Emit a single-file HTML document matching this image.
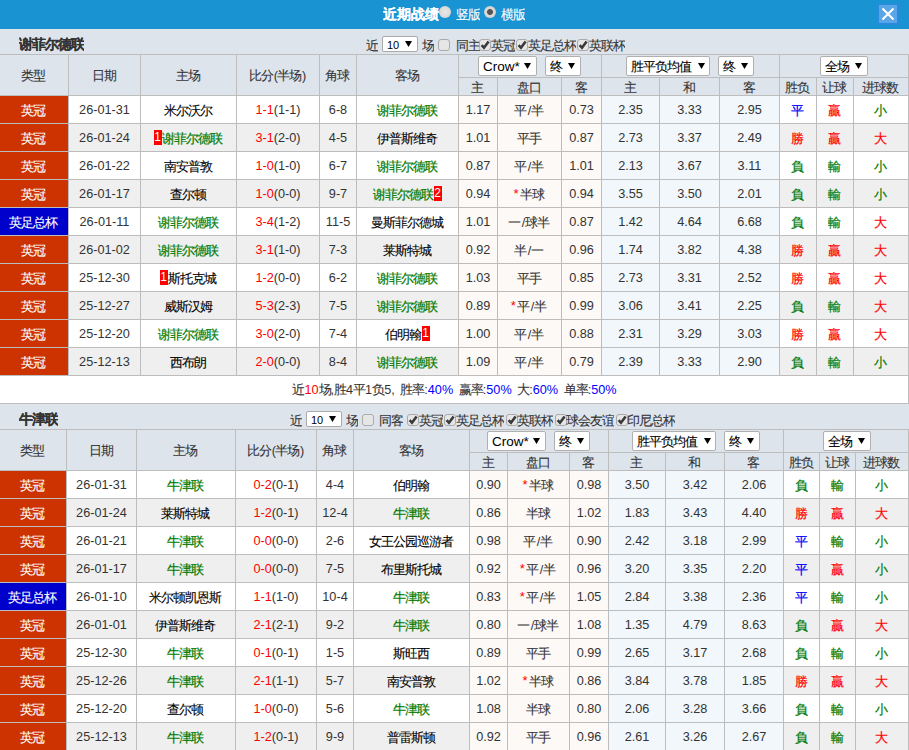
<!DOCTYPE html><html><head><meta charset="utf-8"><style>
*{margin:0;padding:0;box-sizing:border-box}
html,body{width:909px;height:750px;overflow:hidden;background:#fff}
body{position:relative;font-family:"Liberation Sans",sans-serif;font-size:12px;color:#000}
body>div{position:absolute;white-space:nowrap;overflow:hidden}
i{font-style:normal}
.c{font-size:13px;letter-spacing:-1px;-webkit-text-stroke:0.1px}
.l{font-size:12.7px}
.s{position:relative;left:-1px}
.sl{margin:0 1px}
.gr .c{-webkit-text-stroke:0.2px}
.ast{color:red;font-size:13px;position:relative;left:-1px;top:-1px;margin-right:1px}
.tn{font-weight:bold;color:#333}
.tn .c{font-size:14px;letter-spacing:-1px}
.ttl{font-weight:bold;color:#fff}
.ttl .c{font-size:14px;letter-spacing:0}
.bd{background:#f00;color:#fff;display:inline-block;width:8px;height:15px;line-height:15px;vertical-align:2px;text-align:center;letter-spacing:0}
.bd .l{font-size:12px}
.hb{position:relative;left:-1px}
.wt{color:#fff}
.radio{width:12px;height:12px;border-radius:50%;background:radial-gradient(circle,#e8e8e8 0,#d8d8d8 70%,#bbb 100%)}
.radio.on{background:radial-gradient(circle,#555 0,#555 30%,#ddd 40%,#ccc 80%,#aaa 100%)}
.ct{color:#333;line-height:22px}
.sel{background:#fff;border:1px solid #aaa;border-radius:2px}
.st{position:absolute;left:4px;top:0;line-height:16px;color:#000}
.st .l{font-size:11px}
.tri{position:absolute;width:0;height:0;border-left:3.5px solid transparent;border-right:3.5px solid transparent;border-top:6px solid #000}
.cb{width:12px;height:12px;border:1px solid #aaa;border-radius:3px;background:#e6e6e6}
.cb svg{position:absolute;left:-1px;top:-1px}
.hs{background:#fff;border:1px solid #b0b0b0;border-radius:2px}
.hst{position:absolute;top:0;line-height:20px;color:#000}
.hst .l{font-size:13.5px}
.sum{color:#333;word-spacing:2px}
</style></head><body>
<div style="left:0px;top:0px;width:909px;height:29px;background:#1a93d3"></div>
<div style="left:0px;top:29px;width:909px;height:1px;background:#e6ecf2"></div>
<div class="ttl" style="left:383px;top:0;line-height:29px"><i class="c">近期战绩</i></div>
<div class="radio" style="left:439px;top:6px"></div>
<div class="wt" style="left:456px;top:0;line-height:29px"><i class="c">竖版</i></div>
<div class="radio on" style="left:484px;top:6px"></div>
<div class="wt" style="left:501px;top:0;line-height:29px"><i class="c">横版</i></div>
<div style="left:877px;top:4px;width:22px;height:21px;background:#2a8ae0"></div>
<div style="left:879px;top:5px;width:18px;height:18px;background:#5aa5e6"><svg width="18" height="18" style="position:absolute;left:0;top:0"><path d="M3.5 3.5L14.5 14.5M14.5 3.5L3.5 14.5" stroke="#fff" stroke-width="2"/></svg></div>
<div style="left:0px;top:29px;width:909px;height:25px;background:#dde4ec"></div>
<div class="tn" style="left:19px;top:29px;height:25px;line-height:31px"><i class="c">谢菲尔德联</i></div>
<div style="left:0px;top:54px;width:909px;height:41px;background:#dde4ec"></div>
<div style="left:0px;top:54px;width:909px;height:1px;background:#bdbdbd"></div>
<div style="left:0px;top:55px;width:68px;height:40px;text-align:center;line-height:42px;color:#333"><i class="c s">类型</i></div>
<div style="left:69px;top:55px;width:71px;height:40px;text-align:center;line-height:42px;color:#333"><i class="c s">日期</i></div>
<div style="left:141px;top:55px;width:95px;height:40px;text-align:center;line-height:42px;color:#333"><i class="c s">主场</i></div>
<div style="left:237px;top:55px;width:82px;height:40px;text-align:center;line-height:42px;color:#333"><i class="c s">比分</i><i class="l">(</i><i class="c s">半场</i><i class="l">)</i></div>
<div style="left:320px;top:55px;width:36px;height:40px;text-align:center;line-height:42px;color:#333"><i class="c s">角球</i></div>
<div style="left:357px;top:55px;width:101px;height:40px;text-align:center;line-height:42px;color:#333"><i class="c s">客场</i></div>
<div style="left:459px;top:78px;width:38px;height:17px;text-align:center;line-height:19px;color:#333"><i class="c s">主</i></div>
<div style="left:498px;top:78px;width:63px;height:17px;text-align:center;line-height:19px;color:#333"><i class="c s">盘口</i></div>
<div style="left:562px;top:78px;width:39px;height:17px;text-align:center;line-height:19px;color:#333"><i class="c s">客</i></div>
<div style="left:602px;top:78px;width:57px;height:17px;text-align:center;line-height:19px;color:#333"><i class="c s">主</i></div>
<div style="left:660px;top:78px;width:59px;height:17px;text-align:center;line-height:19px;color:#333"><i class="c s">和</i></div>
<div style="left:720px;top:78px;width:59px;height:17px;text-align:center;line-height:19px;color:#333"><i class="c s">客</i></div>
<div style="left:780px;top:78px;width:36px;height:17px;text-align:center;line-height:19px;color:#333"><i class="c s">胜负</i></div>
<div style="left:817px;top:78px;width:36px;height:17px;text-align:center;line-height:19px;color:#333"><i class="c s">让球</i></div>
<div style="left:854px;top:78px;width:54px;height:17px;text-align:center;line-height:19px;color:#333"><i class="c s">进球数</i></div>
<div style="left:458px;top:77px;width:451px;height:1px;background:#bdbdbd"></div>
<div style="left:68px;top:54px;width:1px;height:41px;background:#bdbdbd"></div>
<div style="left:140px;top:54px;width:1px;height:41px;background:#bdbdbd"></div>
<div style="left:236px;top:54px;width:1px;height:41px;background:#bdbdbd"></div>
<div style="left:319px;top:54px;width:1px;height:41px;background:#bdbdbd"></div>
<div style="left:356px;top:54px;width:1px;height:41px;background:#bdbdbd"></div>
<div style="left:458px;top:54px;width:1px;height:41px;background:#bdbdbd"></div>
<div style="left:497px;top:77px;width:1px;height:18px;background:#bdbdbd"></div>
<div style="left:561px;top:77px;width:1px;height:18px;background:#bdbdbd"></div>
<div style="left:601px;top:54px;width:1px;height:41px;background:#bdbdbd"></div>
<div style="left:659px;top:77px;width:1px;height:18px;background:#bdbdbd"></div>
<div style="left:719px;top:77px;width:1px;height:18px;background:#bdbdbd"></div>
<div style="left:779px;top:54px;width:1px;height:41px;background:#bdbdbd"></div>
<div style="left:816px;top:77px;width:1px;height:18px;background:#bdbdbd"></div>
<div style="left:853px;top:77px;width:1px;height:18px;background:#bdbdbd"></div>
<div style="left:908px;top:54px;width:1px;height:41px;background:#bdbdbd"></div>
<div style="left:0px;top:95px;width:909px;height:1px;background:#bdbdbd"></div>
<div style="left:0px;top:96px;width:68px;height:27px;text-align:center;line-height:29px;background:#cc3300;color:#fff"><i class="c s">英冠</i></div>
<div style="left:69px;top:96px;width:71px;height:27px;text-align:center;line-height:29px;background:#fff;color:#333"><i class="l">26-01-31</i></div>
<div style="left:141px;top:96px;width:95px;height:27px;text-align:center;line-height:29px;background:#fff;"><span class="" style="color:#000"><i class="c s">米尔沃尔</i></span></div>
<div style="left:237px;top:96px;width:82px;height:27px;text-align:center;line-height:29px;background:#fff;color:#333"><span style="color:#ff0000"><i class="l">1-1</i></span><i class="l">(1-1)</i></div>
<div style="left:320px;top:96px;width:36px;height:27px;text-align:center;line-height:29px;background:#fff;color:#333"><i class="l">6-8</i></div>
<div style="left:357px;top:96px;width:101px;height:27px;text-align:center;line-height:29px;background:#fff;"><span class="gr" style="color:#007a00"><i class="c s">谢菲尔德联</i></span></div>
<div style="left:459px;top:96px;width:38px;height:27px;text-align:center;line-height:29px;background:#fdf9f6;color:#333"><i class="l">1.17</i></div>
<div style="left:498px;top:96px;width:63px;height:27px;text-align:center;line-height:29px;background:#fdf9f6;color:#333"><i class="c s">平</i><i class="l sl">/</i><i class="c s">半</i></div>
<div style="left:562px;top:96px;width:39px;height:27px;text-align:center;line-height:29px;background:#fdf9f6;color:#333"><i class="l">0.73</i></div>
<div style="left:602px;top:96px;width:57px;height:27px;text-align:center;line-height:29px;background:#f1f7fb;color:#333"><i class="l">2.35</i></div>
<div style="left:660px;top:96px;width:59px;height:27px;text-align:center;line-height:29px;background:#f1f7fb;color:#333"><i class="l">3.33</i></div>
<div style="left:720px;top:96px;width:59px;height:27px;text-align:center;line-height:29px;background:#f1f7fb;color:#333"><i class="l">2.95</i></div>
<div style="left:780px;top:96px;width:36px;height:27px;text-align:center;line-height:29px;background:#fff;color:#0000ff"><span class="gr"><i class="c s">平</i></span></div>
<div style="left:817px;top:96px;width:36px;height:27px;text-align:center;line-height:29px;background:#fff;color:#ff0000"><span class="gr"><i class="c s">贏</i></span></div>
<div style="left:854px;top:96px;width:54px;height:27px;text-align:center;line-height:29px;background:#fff;color:#007a00"><span class="gr"><i class="c s">小</i></span></div>
<div style="left:0px;top:123px;width:909px;height:1px;background:#bdbdbd"></div>
<div style="left:0px;top:124px;width:68px;height:27px;text-align:center;line-height:29px;background:#cc3300;color:#fff"><i class="c s">英冠</i></div>
<div style="left:69px;top:124px;width:71px;height:27px;text-align:center;line-height:29px;background:#efefef;color:#333"><i class="l">26-01-24</i></div>
<div style="left:141px;top:124px;width:95px;height:27px;text-align:center;line-height:29px;background:#efefef;"><span class="bd hb">1</span><span class="gr" style="color:#007a00"><i class="c s">谢菲尔德联</i></span></div>
<div style="left:237px;top:124px;width:82px;height:27px;text-align:center;line-height:29px;background:#efefef;color:#333"><span style="color:#ff0000"><i class="l">3-1</i></span><i class="l">(2-0)</i></div>
<div style="left:320px;top:124px;width:36px;height:27px;text-align:center;line-height:29px;background:#efefef;color:#333"><i class="l">4-5</i></div>
<div style="left:357px;top:124px;width:101px;height:27px;text-align:center;line-height:29px;background:#efefef;"><span class="" style="color:#000"><i class="c s">伊普斯维奇</i></span></div>
<div style="left:459px;top:124px;width:38px;height:27px;text-align:center;line-height:29px;background:#fdf9f6;color:#333"><i class="l">1.01</i></div>
<div style="left:498px;top:124px;width:63px;height:27px;text-align:center;line-height:29px;background:#fdf9f6;color:#333"><i class="c s">平手</i></div>
<div style="left:562px;top:124px;width:39px;height:27px;text-align:center;line-height:29px;background:#fdf9f6;color:#333"><i class="l">0.87</i></div>
<div style="left:602px;top:124px;width:57px;height:27px;text-align:center;line-height:29px;background:#f1f7fb;color:#333"><i class="l">2.73</i></div>
<div style="left:660px;top:124px;width:59px;height:27px;text-align:center;line-height:29px;background:#f1f7fb;color:#333"><i class="l">3.37</i></div>
<div style="left:720px;top:124px;width:59px;height:27px;text-align:center;line-height:29px;background:#f1f7fb;color:#333"><i class="l">2.49</i></div>
<div style="left:780px;top:124px;width:36px;height:27px;text-align:center;line-height:29px;background:#efefef;color:#ff0000"><span class="gr"><i class="c s">勝</i></span></div>
<div style="left:817px;top:124px;width:36px;height:27px;text-align:center;line-height:29px;background:#efefef;color:#ff0000"><span class="gr"><i class="c s">贏</i></span></div>
<div style="left:854px;top:124px;width:54px;height:27px;text-align:center;line-height:29px;background:#efefef;color:#ff0000"><span class="gr"><i class="c s">大</i></span></div>
<div style="left:0px;top:151px;width:909px;height:1px;background:#bdbdbd"></div>
<div style="left:0px;top:152px;width:68px;height:27px;text-align:center;line-height:29px;background:#cc3300;color:#fff"><i class="c s">英冠</i></div>
<div style="left:69px;top:152px;width:71px;height:27px;text-align:center;line-height:29px;background:#fff;color:#333"><i class="l">26-01-22</i></div>
<div style="left:141px;top:152px;width:95px;height:27px;text-align:center;line-height:29px;background:#fff;"><span class="" style="color:#000"><i class="c s">南安普敦</i></span></div>
<div style="left:237px;top:152px;width:82px;height:27px;text-align:center;line-height:29px;background:#fff;color:#333"><span style="color:#ff0000"><i class="l">1-0</i></span><i class="l">(1-0)</i></div>
<div style="left:320px;top:152px;width:36px;height:27px;text-align:center;line-height:29px;background:#fff;color:#333"><i class="l">6-7</i></div>
<div style="left:357px;top:152px;width:101px;height:27px;text-align:center;line-height:29px;background:#fff;"><span class="gr" style="color:#007a00"><i class="c s">谢菲尔德联</i></span></div>
<div style="left:459px;top:152px;width:38px;height:27px;text-align:center;line-height:29px;background:#fdf9f6;color:#333"><i class="l">0.87</i></div>
<div style="left:498px;top:152px;width:63px;height:27px;text-align:center;line-height:29px;background:#fdf9f6;color:#333"><i class="c s">平</i><i class="l sl">/</i><i class="c s">半</i></div>
<div style="left:562px;top:152px;width:39px;height:27px;text-align:center;line-height:29px;background:#fdf9f6;color:#333"><i class="l">1.01</i></div>
<div style="left:602px;top:152px;width:57px;height:27px;text-align:center;line-height:29px;background:#f1f7fb;color:#333"><i class="l">2.13</i></div>
<div style="left:660px;top:152px;width:59px;height:27px;text-align:center;line-height:29px;background:#f1f7fb;color:#333"><i class="l">3.67</i></div>
<div style="left:720px;top:152px;width:59px;height:27px;text-align:center;line-height:29px;background:#f1f7fb;color:#333"><i class="l">3.11</i></div>
<div style="left:780px;top:152px;width:36px;height:27px;text-align:center;line-height:29px;background:#fff;color:#007a00"><span class="gr"><i class="c s">負</i></span></div>
<div style="left:817px;top:152px;width:36px;height:27px;text-align:center;line-height:29px;background:#fff;color:#007a00"><span class="gr"><i class="c s">輸</i></span></div>
<div style="left:854px;top:152px;width:54px;height:27px;text-align:center;line-height:29px;background:#fff;color:#007a00"><span class="gr"><i class="c s">小</i></span></div>
<div style="left:0px;top:179px;width:909px;height:1px;background:#bdbdbd"></div>
<div style="left:0px;top:180px;width:68px;height:27px;text-align:center;line-height:29px;background:#cc3300;color:#fff"><i class="c s">英冠</i></div>
<div style="left:69px;top:180px;width:71px;height:27px;text-align:center;line-height:29px;background:#efefef;color:#333"><i class="l">26-01-17</i></div>
<div style="left:141px;top:180px;width:95px;height:27px;text-align:center;line-height:29px;background:#efefef;"><span class="" style="color:#000"><i class="c s">查尔顿</i></span></div>
<div style="left:237px;top:180px;width:82px;height:27px;text-align:center;line-height:29px;background:#efefef;color:#333"><span style="color:#ff0000"><i class="l">1-0</i></span><i class="l">(0-0)</i></div>
<div style="left:320px;top:180px;width:36px;height:27px;text-align:center;line-height:29px;background:#efefef;color:#333"><i class="l">9-7</i></div>
<div style="left:357px;top:180px;width:101px;height:27px;text-align:center;line-height:29px;background:#efefef;"><span class="gr" style="color:#007a00"><i class="c s">谢菲尔德联</i></span><span class="bd">2</span></div>
<div style="left:459px;top:180px;width:38px;height:27px;text-align:center;line-height:29px;background:#fdf9f6;color:#333"><i class="l">0.94</i></div>
<div style="left:498px;top:180px;width:63px;height:27px;text-align:center;line-height:29px;background:#fdf9f6;color:#333"><span class="ast">*</span><i class="c s">半球</i></div>
<div style="left:562px;top:180px;width:39px;height:27px;text-align:center;line-height:29px;background:#fdf9f6;color:#333"><i class="l">0.94</i></div>
<div style="left:602px;top:180px;width:57px;height:27px;text-align:center;line-height:29px;background:#f1f7fb;color:#333"><i class="l">3.55</i></div>
<div style="left:660px;top:180px;width:59px;height:27px;text-align:center;line-height:29px;background:#f1f7fb;color:#333"><i class="l">3.50</i></div>
<div style="left:720px;top:180px;width:59px;height:27px;text-align:center;line-height:29px;background:#f1f7fb;color:#333"><i class="l">2.01</i></div>
<div style="left:780px;top:180px;width:36px;height:27px;text-align:center;line-height:29px;background:#efefef;color:#007a00"><span class="gr"><i class="c s">負</i></span></div>
<div style="left:817px;top:180px;width:36px;height:27px;text-align:center;line-height:29px;background:#efefef;color:#007a00"><span class="gr"><i class="c s">輸</i></span></div>
<div style="left:854px;top:180px;width:54px;height:27px;text-align:center;line-height:29px;background:#efefef;color:#007a00"><span class="gr"><i class="c s">小</i></span></div>
<div style="left:0px;top:207px;width:909px;height:1px;background:#bdbdbd"></div>
<div style="left:0px;top:208px;width:68px;height:27px;text-align:center;line-height:29px;background:#0000cc;color:#fff"><i class="c s">英足总杯</i></div>
<div style="left:69px;top:208px;width:71px;height:27px;text-align:center;line-height:29px;background:#fff;color:#333"><i class="l">26-01-11</i></div>
<div style="left:141px;top:208px;width:95px;height:27px;text-align:center;line-height:29px;background:#fff;"><span class="gr" style="color:#007a00"><i class="c s">谢菲尔德联</i></span></div>
<div style="left:237px;top:208px;width:82px;height:27px;text-align:center;line-height:29px;background:#fff;color:#333"><span style="color:#ff0000"><i class="l">3-4</i></span><i class="l">(1-2)</i></div>
<div style="left:320px;top:208px;width:36px;height:27px;text-align:center;line-height:29px;background:#fff;color:#333"><i class="l">11-5</i></div>
<div style="left:357px;top:208px;width:101px;height:27px;text-align:center;line-height:29px;background:#fff;"><span class="" style="color:#000"><i class="c s">曼斯菲尔德城</i></span></div>
<div style="left:459px;top:208px;width:38px;height:27px;text-align:center;line-height:29px;background:#fdf9f6;color:#333"><i class="l">1.01</i></div>
<div style="left:498px;top:208px;width:63px;height:27px;text-align:center;line-height:29px;background:#fdf9f6;color:#333"><i class="c s">一</i><i class="l sl">/</i><i class="c s">球半</i></div>
<div style="left:562px;top:208px;width:39px;height:27px;text-align:center;line-height:29px;background:#fdf9f6;color:#333"><i class="l">0.87</i></div>
<div style="left:602px;top:208px;width:57px;height:27px;text-align:center;line-height:29px;background:#f1f7fb;color:#333"><i class="l">1.42</i></div>
<div style="left:660px;top:208px;width:59px;height:27px;text-align:center;line-height:29px;background:#f1f7fb;color:#333"><i class="l">4.64</i></div>
<div style="left:720px;top:208px;width:59px;height:27px;text-align:center;line-height:29px;background:#f1f7fb;color:#333"><i class="l">6.68</i></div>
<div style="left:780px;top:208px;width:36px;height:27px;text-align:center;line-height:29px;background:#fff;color:#007a00"><span class="gr"><i class="c s">負</i></span></div>
<div style="left:817px;top:208px;width:36px;height:27px;text-align:center;line-height:29px;background:#fff;color:#007a00"><span class="gr"><i class="c s">輸</i></span></div>
<div style="left:854px;top:208px;width:54px;height:27px;text-align:center;line-height:29px;background:#fff;color:#ff0000"><span class="gr"><i class="c s">大</i></span></div>
<div style="left:0px;top:235px;width:909px;height:1px;background:#bdbdbd"></div>
<div style="left:0px;top:236px;width:68px;height:27px;text-align:center;line-height:29px;background:#cc3300;color:#fff"><i class="c s">英冠</i></div>
<div style="left:69px;top:236px;width:71px;height:27px;text-align:center;line-height:29px;background:#efefef;color:#333"><i class="l">26-01-02</i></div>
<div style="left:141px;top:236px;width:95px;height:27px;text-align:center;line-height:29px;background:#efefef;"><span class="gr" style="color:#007a00"><i class="c s">谢菲尔德联</i></span></div>
<div style="left:237px;top:236px;width:82px;height:27px;text-align:center;line-height:29px;background:#efefef;color:#333"><span style="color:#ff0000"><i class="l">3-1</i></span><i class="l">(1-0)</i></div>
<div style="left:320px;top:236px;width:36px;height:27px;text-align:center;line-height:29px;background:#efefef;color:#333"><i class="l">7-3</i></div>
<div style="left:357px;top:236px;width:101px;height:27px;text-align:center;line-height:29px;background:#efefef;"><span class="" style="color:#000"><i class="c s">莱斯特城</i></span></div>
<div style="left:459px;top:236px;width:38px;height:27px;text-align:center;line-height:29px;background:#fdf9f6;color:#333"><i class="l">0.92</i></div>
<div style="left:498px;top:236px;width:63px;height:27px;text-align:center;line-height:29px;background:#fdf9f6;color:#333"><i class="c s">半</i><i class="l sl">/</i><i class="c s">一</i></div>
<div style="left:562px;top:236px;width:39px;height:27px;text-align:center;line-height:29px;background:#fdf9f6;color:#333"><i class="l">0.96</i></div>
<div style="left:602px;top:236px;width:57px;height:27px;text-align:center;line-height:29px;background:#f1f7fb;color:#333"><i class="l">1.74</i></div>
<div style="left:660px;top:236px;width:59px;height:27px;text-align:center;line-height:29px;background:#f1f7fb;color:#333"><i class="l">3.82</i></div>
<div style="left:720px;top:236px;width:59px;height:27px;text-align:center;line-height:29px;background:#f1f7fb;color:#333"><i class="l">4.38</i></div>
<div style="left:780px;top:236px;width:36px;height:27px;text-align:center;line-height:29px;background:#efefef;color:#ff0000"><span class="gr"><i class="c s">勝</i></span></div>
<div style="left:817px;top:236px;width:36px;height:27px;text-align:center;line-height:29px;background:#efefef;color:#ff0000"><span class="gr"><i class="c s">贏</i></span></div>
<div style="left:854px;top:236px;width:54px;height:27px;text-align:center;line-height:29px;background:#efefef;color:#ff0000"><span class="gr"><i class="c s">大</i></span></div>
<div style="left:0px;top:263px;width:909px;height:1px;background:#bdbdbd"></div>
<div style="left:0px;top:264px;width:68px;height:27px;text-align:center;line-height:29px;background:#cc3300;color:#fff"><i class="c s">英冠</i></div>
<div style="left:69px;top:264px;width:71px;height:27px;text-align:center;line-height:29px;background:#fff;color:#333"><i class="l">25-12-30</i></div>
<div style="left:141px;top:264px;width:95px;height:27px;text-align:center;line-height:29px;background:#fff;"><span class="bd hb">1</span><span class="" style="color:#000"><i class="c s">斯托克城</i></span></div>
<div style="left:237px;top:264px;width:82px;height:27px;text-align:center;line-height:29px;background:#fff;color:#333"><span style="color:#ff0000"><i class="l">1-2</i></span><i class="l">(0-0)</i></div>
<div style="left:320px;top:264px;width:36px;height:27px;text-align:center;line-height:29px;background:#fff;color:#333"><i class="l">6-2</i></div>
<div style="left:357px;top:264px;width:101px;height:27px;text-align:center;line-height:29px;background:#fff;"><span class="gr" style="color:#007a00"><i class="c s">谢菲尔德联</i></span></div>
<div style="left:459px;top:264px;width:38px;height:27px;text-align:center;line-height:29px;background:#fdf9f6;color:#333"><i class="l">1.03</i></div>
<div style="left:498px;top:264px;width:63px;height:27px;text-align:center;line-height:29px;background:#fdf9f6;color:#333"><i class="c s">平手</i></div>
<div style="left:562px;top:264px;width:39px;height:27px;text-align:center;line-height:29px;background:#fdf9f6;color:#333"><i class="l">0.85</i></div>
<div style="left:602px;top:264px;width:57px;height:27px;text-align:center;line-height:29px;background:#f1f7fb;color:#333"><i class="l">2.73</i></div>
<div style="left:660px;top:264px;width:59px;height:27px;text-align:center;line-height:29px;background:#f1f7fb;color:#333"><i class="l">3.31</i></div>
<div style="left:720px;top:264px;width:59px;height:27px;text-align:center;line-height:29px;background:#f1f7fb;color:#333"><i class="l">2.52</i></div>
<div style="left:780px;top:264px;width:36px;height:27px;text-align:center;line-height:29px;background:#fff;color:#ff0000"><span class="gr"><i class="c s">勝</i></span></div>
<div style="left:817px;top:264px;width:36px;height:27px;text-align:center;line-height:29px;background:#fff;color:#ff0000"><span class="gr"><i class="c s">贏</i></span></div>
<div style="left:854px;top:264px;width:54px;height:27px;text-align:center;line-height:29px;background:#fff;color:#ff0000"><span class="gr"><i class="c s">大</i></span></div>
<div style="left:0px;top:291px;width:909px;height:1px;background:#bdbdbd"></div>
<div style="left:0px;top:292px;width:68px;height:27px;text-align:center;line-height:29px;background:#cc3300;color:#fff"><i class="c s">英冠</i></div>
<div style="left:69px;top:292px;width:71px;height:27px;text-align:center;line-height:29px;background:#efefef;color:#333"><i class="l">25-12-27</i></div>
<div style="left:141px;top:292px;width:95px;height:27px;text-align:center;line-height:29px;background:#efefef;"><span class="" style="color:#000"><i class="c s">威斯汉姆</i></span></div>
<div style="left:237px;top:292px;width:82px;height:27px;text-align:center;line-height:29px;background:#efefef;color:#333"><span style="color:#ff0000"><i class="l">5-3</i></span><i class="l">(2-3)</i></div>
<div style="left:320px;top:292px;width:36px;height:27px;text-align:center;line-height:29px;background:#efefef;color:#333"><i class="l">7-5</i></div>
<div style="left:357px;top:292px;width:101px;height:27px;text-align:center;line-height:29px;background:#efefef;"><span class="gr" style="color:#007a00"><i class="c s">谢菲尔德联</i></span></div>
<div style="left:459px;top:292px;width:38px;height:27px;text-align:center;line-height:29px;background:#fdf9f6;color:#333"><i class="l">0.89</i></div>
<div style="left:498px;top:292px;width:63px;height:27px;text-align:center;line-height:29px;background:#fdf9f6;color:#333"><span class="ast">*</span><i class="c s">平</i><i class="l sl">/</i><i class="c s">半</i></div>
<div style="left:562px;top:292px;width:39px;height:27px;text-align:center;line-height:29px;background:#fdf9f6;color:#333"><i class="l">0.99</i></div>
<div style="left:602px;top:292px;width:57px;height:27px;text-align:center;line-height:29px;background:#f1f7fb;color:#333"><i class="l">3.06</i></div>
<div style="left:660px;top:292px;width:59px;height:27px;text-align:center;line-height:29px;background:#f1f7fb;color:#333"><i class="l">3.41</i></div>
<div style="left:720px;top:292px;width:59px;height:27px;text-align:center;line-height:29px;background:#f1f7fb;color:#333"><i class="l">2.25</i></div>
<div style="left:780px;top:292px;width:36px;height:27px;text-align:center;line-height:29px;background:#efefef;color:#007a00"><span class="gr"><i class="c s">負</i></span></div>
<div style="left:817px;top:292px;width:36px;height:27px;text-align:center;line-height:29px;background:#efefef;color:#007a00"><span class="gr"><i class="c s">輸</i></span></div>
<div style="left:854px;top:292px;width:54px;height:27px;text-align:center;line-height:29px;background:#efefef;color:#ff0000"><span class="gr"><i class="c s">大</i></span></div>
<div style="left:0px;top:319px;width:909px;height:1px;background:#bdbdbd"></div>
<div style="left:0px;top:320px;width:68px;height:27px;text-align:center;line-height:29px;background:#cc3300;color:#fff"><i class="c s">英冠</i></div>
<div style="left:69px;top:320px;width:71px;height:27px;text-align:center;line-height:29px;background:#fff;color:#333"><i class="l">25-12-20</i></div>
<div style="left:141px;top:320px;width:95px;height:27px;text-align:center;line-height:29px;background:#fff;"><span class="gr" style="color:#007a00"><i class="c s">谢菲尔德联</i></span></div>
<div style="left:237px;top:320px;width:82px;height:27px;text-align:center;line-height:29px;background:#fff;color:#333"><span style="color:#ff0000"><i class="l">3-0</i></span><i class="l">(2-0)</i></div>
<div style="left:320px;top:320px;width:36px;height:27px;text-align:center;line-height:29px;background:#fff;color:#333"><i class="l">7-4</i></div>
<div style="left:357px;top:320px;width:101px;height:27px;text-align:center;line-height:29px;background:#fff;"><span class="" style="color:#000"><i class="c s">伯明翰</i></span><span class="bd">1</span></div>
<div style="left:459px;top:320px;width:38px;height:27px;text-align:center;line-height:29px;background:#fdf9f6;color:#333"><i class="l">1.00</i></div>
<div style="left:498px;top:320px;width:63px;height:27px;text-align:center;line-height:29px;background:#fdf9f6;color:#333"><i class="c s">平</i><i class="l sl">/</i><i class="c s">半</i></div>
<div style="left:562px;top:320px;width:39px;height:27px;text-align:center;line-height:29px;background:#fdf9f6;color:#333"><i class="l">0.88</i></div>
<div style="left:602px;top:320px;width:57px;height:27px;text-align:center;line-height:29px;background:#f1f7fb;color:#333"><i class="l">2.31</i></div>
<div style="left:660px;top:320px;width:59px;height:27px;text-align:center;line-height:29px;background:#f1f7fb;color:#333"><i class="l">3.29</i></div>
<div style="left:720px;top:320px;width:59px;height:27px;text-align:center;line-height:29px;background:#f1f7fb;color:#333"><i class="l">3.03</i></div>
<div style="left:780px;top:320px;width:36px;height:27px;text-align:center;line-height:29px;background:#fff;color:#ff0000"><span class="gr"><i class="c s">勝</i></span></div>
<div style="left:817px;top:320px;width:36px;height:27px;text-align:center;line-height:29px;background:#fff;color:#ff0000"><span class="gr"><i class="c s">贏</i></span></div>
<div style="left:854px;top:320px;width:54px;height:27px;text-align:center;line-height:29px;background:#fff;color:#ff0000"><span class="gr"><i class="c s">大</i></span></div>
<div style="left:0px;top:347px;width:909px;height:1px;background:#bdbdbd"></div>
<div style="left:0px;top:348px;width:68px;height:27px;text-align:center;line-height:29px;background:#cc3300;color:#fff"><i class="c s">英冠</i></div>
<div style="left:69px;top:348px;width:71px;height:27px;text-align:center;line-height:29px;background:#efefef;color:#333"><i class="l">25-12-13</i></div>
<div style="left:141px;top:348px;width:95px;height:27px;text-align:center;line-height:29px;background:#efefef;"><span class="" style="color:#000"><i class="c s">西布朗</i></span></div>
<div style="left:237px;top:348px;width:82px;height:27px;text-align:center;line-height:29px;background:#efefef;color:#333"><span style="color:#ff0000"><i class="l">2-0</i></span><i class="l">(0-0)</i></div>
<div style="left:320px;top:348px;width:36px;height:27px;text-align:center;line-height:29px;background:#efefef;color:#333"><i class="l">8-4</i></div>
<div style="left:357px;top:348px;width:101px;height:27px;text-align:center;line-height:29px;background:#efefef;"><span class="gr" style="color:#007a00"><i class="c s">谢菲尔德联</i></span></div>
<div style="left:459px;top:348px;width:38px;height:27px;text-align:center;line-height:29px;background:#fdf9f6;color:#333"><i class="l">1.09</i></div>
<div style="left:498px;top:348px;width:63px;height:27px;text-align:center;line-height:29px;background:#fdf9f6;color:#333"><i class="c s">平</i><i class="l sl">/</i><i class="c s">半</i></div>
<div style="left:562px;top:348px;width:39px;height:27px;text-align:center;line-height:29px;background:#fdf9f6;color:#333"><i class="l">0.79</i></div>
<div style="left:602px;top:348px;width:57px;height:27px;text-align:center;line-height:29px;background:#f1f7fb;color:#333"><i class="l">2.39</i></div>
<div style="left:660px;top:348px;width:59px;height:27px;text-align:center;line-height:29px;background:#f1f7fb;color:#333"><i class="l">3.33</i></div>
<div style="left:720px;top:348px;width:59px;height:27px;text-align:center;line-height:29px;background:#f1f7fb;color:#333"><i class="l">2.90</i></div>
<div style="left:780px;top:348px;width:36px;height:27px;text-align:center;line-height:29px;background:#efefef;color:#007a00"><span class="gr"><i class="c s">負</i></span></div>
<div style="left:817px;top:348px;width:36px;height:27px;text-align:center;line-height:29px;background:#efefef;color:#007a00"><span class="gr"><i class="c s">輸</i></span></div>
<div style="left:854px;top:348px;width:54px;height:27px;text-align:center;line-height:29px;background:#efefef;color:#007a00"><span class="gr"><i class="c s">小</i></span></div>
<div style="left:0px;top:375px;width:909px;height:1px;background:#bdbdbd"></div>
<div style="left:68px;top:95px;width:1px;height:280px;background:#bdbdbd"></div>
<div style="left:140px;top:95px;width:1px;height:280px;background:#bdbdbd"></div>
<div style="left:236px;top:95px;width:1px;height:280px;background:#bdbdbd"></div>
<div style="left:319px;top:95px;width:1px;height:280px;background:#bdbdbd"></div>
<div style="left:356px;top:95px;width:1px;height:280px;background:#bdbdbd"></div>
<div style="left:458px;top:95px;width:1px;height:280px;background:#bdbdbd"></div>
<div style="left:497px;top:95px;width:1px;height:280px;background:#bdbdbd"></div>
<div style="left:561px;top:95px;width:1px;height:280px;background:#bdbdbd"></div>
<div style="left:601px;top:95px;width:1px;height:280px;background:#bdbdbd"></div>
<div style="left:659px;top:95px;width:1px;height:280px;background:#bdbdbd"></div>
<div style="left:719px;top:95px;width:1px;height:280px;background:#bdbdbd"></div>
<div style="left:779px;top:95px;width:1px;height:280px;background:#bdbdbd"></div>
<div style="left:816px;top:95px;width:1px;height:280px;background:#bdbdbd"></div>
<div style="left:853px;top:95px;width:1px;height:280px;background:#bdbdbd"></div>
<div style="left:908px;top:95px;width:1px;height:280px;background:#bdbdbd"></div>
<div class="ct" style="left:366px;top:35px"><i class="c">近</i></div>
<div class="sel" style="left:382px;top:36px;width:36px;height:16px"><span class="st"><i class="l">10</i></span><svg width="7" height="6" style="position:absolute;left:22px;top:4px"><path d="M0 0H7L3.5 6Z" fill="#000"/></svg></div>
<div class="ct" style="left:422px;top:35px"><i class="c">场</i></div>
<div class="cb" style="left:438px;top:39px"></div>
<div class="ct" style="left:456px;top:35px"><i class="c">同主</i></div>
<div class="cb" style="left:479px;top:39px"><svg width="12" height="12"><path d="M2.6 6.2L5 8.8L9.6 2.6" stroke="#3a3a3a" stroke-width="2.6" fill="none"/></svg></div>
<div class="ct" style="left:491px;top:35px"><i class="c">英冠</i></div>
<div class="cb" style="left:516px;top:39px"><svg width="12" height="12"><path d="M2.6 6.2L5 8.8L9.6 2.6" stroke="#3a3a3a" stroke-width="2.6" fill="none"/></svg></div>
<div class="ct" style="left:528px;top:35px"><i class="c">英足总杯</i></div>
<div class="cb" style="left:577px;top:39px"><svg width="12" height="12"><path d="M2.6 6.2L5 8.8L9.6 2.6" stroke="#3a3a3a" stroke-width="2.6" fill="none"/></svg></div>
<div class="ct" style="left:589px;top:35px"><i class="c">英联杯</i></div>
<div class="hs" style="left:478px;top:56px;width:59px;height:20px"><span class="hst" style="left:4px"><i class="l">Crow*</i></span><svg width="7" height="6" style="position:absolute;left:45px;top:6px"><path d="M0 0H7L3.5 6Z" fill="#000"/></svg></div>
<div class="hs" style="left:545px;top:56px;width:36px;height:20px"><span class="hst" style="left:4px"><i class="c">终</i></span><svg width="7" height="6" style="position:absolute;left:22px;top:6px"><path d="M0 0H7L3.5 6Z" fill="#000"/></svg></div>
<div class="hs" style="left:626px;top:56px;width:84px;height:20px"><span class="hst" style="left:4px"><i class="c">胜平负均值</i></span><svg width="7" height="6" style="position:absolute;left:71px;top:6px"><path d="M0 0H7L3.5 6Z" fill="#000"/></svg></div>
<div class="hs" style="left:718px;top:56px;width:36px;height:20px"><span class="hst" style="left:4px"><i class="c">终</i></span><svg width="7" height="6" style="position:absolute;left:22px;top:6px"><path d="M0 0H7L3.5 6Z" fill="#000"/></svg></div>
<div class="hs" style="left:820px;top:56px;width:48px;height:20px"><span class="hst" style="left:4px"><i class="c">全场</i></span><svg width="7" height="6" style="position:absolute;left:34px;top:6px"><path d="M0 0H7L3.5 6Z" fill="#000"/></svg></div>
<div class="sum" style="left:0;top:376px;width:909px;height:27px;line-height:27px;text-align:center"><i class="c">近</i><span style="color:red"><i class="l">10</i></span><i class="c">场</i><i class="l">,</i><i class="c">胜</i><i class="l">4</i><i class="c">平</i><i class="l">1</i><i class="c">负</i><i class="l">5, </i><i class="c">胜率</i><i class="l">:</i><span style="color:blue"><i class="l">40%</i></span><i class="l"> </i><i class="c">赢率</i><i class="l">:</i><span style="color:blue"><i class="l">50%</i></span><i class="l"> </i><i class="c">大</i><i class="l">:</i><span style="color:blue"><i class="l">60%</i></span><i class="l"> </i><i class="c">单率</i><i class="l">:</i><span style="color:blue"><i class="l">50%</i></span></div>
<div style="left:0px;top:403px;width:909px;height:26px;background:#dde4ec"></div>
<div class="tn" style="left:19px;top:403px;height:26px;line-height:32px"><i class="c">牛津联</i></div>
<div style="left:0px;top:429px;width:909px;height:41px;background:#dde4ec"></div>
<div style="left:0px;top:429px;width:909px;height:1px;background:#bdbdbd"></div>
<div style="left:0px;top:430px;width:66px;height:40px;text-align:center;line-height:42px;color:#333"><i class="c s">类型</i></div>
<div style="left:67px;top:430px;width:69px;height:40px;text-align:center;line-height:42px;color:#333"><i class="c s">日期</i></div>
<div style="left:137px;top:430px;width:98px;height:40px;text-align:center;line-height:42px;color:#333"><i class="c s">主场</i></div>
<div style="left:236px;top:430px;width:80px;height:40px;text-align:center;line-height:42px;color:#333"><i class="c s">比分</i><i class="l">(</i><i class="c s">半场</i><i class="l">)</i></div>
<div style="left:317px;top:430px;width:36px;height:40px;text-align:center;line-height:42px;color:#333"><i class="c s">角球</i></div>
<div style="left:354px;top:430px;width:115px;height:40px;text-align:center;line-height:42px;color:#333"><i class="c s">客场</i></div>
<div style="left:470px;top:453px;width:37px;height:17px;text-align:center;line-height:19px;color:#333"><i class="c s">主</i></div>
<div style="left:508px;top:453px;width:61px;height:17px;text-align:center;line-height:19px;color:#333"><i class="c s">盘口</i></div>
<div style="left:570px;top:453px;width:38px;height:17px;text-align:center;line-height:19px;color:#333"><i class="c s">客</i></div>
<div style="left:609px;top:453px;width:56px;height:17px;text-align:center;line-height:19px;color:#333"><i class="c s">主</i></div>
<div style="left:666px;top:453px;width:58px;height:17px;text-align:center;line-height:19px;color:#333"><i class="c s">和</i></div>
<div style="left:725px;top:453px;width:58px;height:17px;text-align:center;line-height:19px;color:#333"><i class="c s">客</i></div>
<div style="left:784px;top:453px;width:35px;height:17px;text-align:center;line-height:19px;color:#333"><i class="c s">胜负</i></div>
<div style="left:820px;top:453px;width:35px;height:17px;text-align:center;line-height:19px;color:#333"><i class="c s">让球</i></div>
<div style="left:856px;top:453px;width:52px;height:17px;text-align:center;line-height:19px;color:#333"><i class="c s">进球数</i></div>
<div style="left:469px;top:452px;width:440px;height:1px;background:#bdbdbd"></div>
<div style="left:66px;top:429px;width:1px;height:41px;background:#bdbdbd"></div>
<div style="left:136px;top:429px;width:1px;height:41px;background:#bdbdbd"></div>
<div style="left:235px;top:429px;width:1px;height:41px;background:#bdbdbd"></div>
<div style="left:316px;top:429px;width:1px;height:41px;background:#bdbdbd"></div>
<div style="left:353px;top:429px;width:1px;height:41px;background:#bdbdbd"></div>
<div style="left:469px;top:429px;width:1px;height:41px;background:#bdbdbd"></div>
<div style="left:507px;top:452px;width:1px;height:18px;background:#bdbdbd"></div>
<div style="left:569px;top:452px;width:1px;height:18px;background:#bdbdbd"></div>
<div style="left:608px;top:429px;width:1px;height:41px;background:#bdbdbd"></div>
<div style="left:665px;top:452px;width:1px;height:18px;background:#bdbdbd"></div>
<div style="left:724px;top:452px;width:1px;height:18px;background:#bdbdbd"></div>
<div style="left:783px;top:429px;width:1px;height:41px;background:#bdbdbd"></div>
<div style="left:819px;top:452px;width:1px;height:18px;background:#bdbdbd"></div>
<div style="left:855px;top:452px;width:1px;height:18px;background:#bdbdbd"></div>
<div style="left:908px;top:429px;width:1px;height:41px;background:#bdbdbd"></div>
<div style="left:0px;top:470px;width:909px;height:1px;background:#bdbdbd"></div>
<div style="left:0px;top:471px;width:66px;height:27px;text-align:center;line-height:29px;background:#cc3300;color:#fff"><i class="c s">英冠</i></div>
<div style="left:67px;top:471px;width:69px;height:27px;text-align:center;line-height:29px;background:#fff;color:#333"><i class="l">26-01-31</i></div>
<div style="left:137px;top:471px;width:98px;height:27px;text-align:center;line-height:29px;background:#fff;"><span class="gr" style="color:#007a00"><i class="c s">牛津联</i></span></div>
<div style="left:236px;top:471px;width:80px;height:27px;text-align:center;line-height:29px;background:#fff;color:#333"><span style="color:#ff0000"><i class="l">0-2</i></span><i class="l">(0-1)</i></div>
<div style="left:317px;top:471px;width:36px;height:27px;text-align:center;line-height:29px;background:#fff;color:#333"><i class="l">4-4</i></div>
<div style="left:354px;top:471px;width:115px;height:27px;text-align:center;line-height:29px;background:#fff;"><span class="" style="color:#000"><i class="c s">伯明翰</i></span></div>
<div style="left:470px;top:471px;width:37px;height:27px;text-align:center;line-height:29px;background:#fdf9f6;color:#333"><i class="l">0.90</i></div>
<div style="left:508px;top:471px;width:61px;height:27px;text-align:center;line-height:29px;background:#fdf9f6;color:#333"><span class="ast">*</span><i class="c s">半球</i></div>
<div style="left:570px;top:471px;width:38px;height:27px;text-align:center;line-height:29px;background:#fdf9f6;color:#333"><i class="l">0.98</i></div>
<div style="left:609px;top:471px;width:56px;height:27px;text-align:center;line-height:29px;background:#f1f7fb;color:#333"><i class="l">3.50</i></div>
<div style="left:666px;top:471px;width:58px;height:27px;text-align:center;line-height:29px;background:#f1f7fb;color:#333"><i class="l">3.42</i></div>
<div style="left:725px;top:471px;width:58px;height:27px;text-align:center;line-height:29px;background:#f1f7fb;color:#333"><i class="l">2.06</i></div>
<div style="left:784px;top:471px;width:35px;height:27px;text-align:center;line-height:29px;background:#fff;color:#007a00"><span class="gr"><i class="c s">負</i></span></div>
<div style="left:820px;top:471px;width:35px;height:27px;text-align:center;line-height:29px;background:#fff;color:#007a00"><span class="gr"><i class="c s">輸</i></span></div>
<div style="left:856px;top:471px;width:52px;height:27px;text-align:center;line-height:29px;background:#fff;color:#007a00"><span class="gr"><i class="c s">小</i></span></div>
<div style="left:0px;top:498px;width:909px;height:1px;background:#bdbdbd"></div>
<div style="left:0px;top:499px;width:66px;height:27px;text-align:center;line-height:29px;background:#cc3300;color:#fff"><i class="c s">英冠</i></div>
<div style="left:67px;top:499px;width:69px;height:27px;text-align:center;line-height:29px;background:#efefef;color:#333"><i class="l">26-01-24</i></div>
<div style="left:137px;top:499px;width:98px;height:27px;text-align:center;line-height:29px;background:#efefef;"><span class="" style="color:#000"><i class="c s">莱斯特城</i></span></div>
<div style="left:236px;top:499px;width:80px;height:27px;text-align:center;line-height:29px;background:#efefef;color:#333"><span style="color:#ff0000"><i class="l">1-2</i></span><i class="l">(0-1)</i></div>
<div style="left:317px;top:499px;width:36px;height:27px;text-align:center;line-height:29px;background:#efefef;color:#333"><i class="l">12-4</i></div>
<div style="left:354px;top:499px;width:115px;height:27px;text-align:center;line-height:29px;background:#efefef;"><span class="gr" style="color:#007a00"><i class="c s">牛津联</i></span></div>
<div style="left:470px;top:499px;width:37px;height:27px;text-align:center;line-height:29px;background:#fdf9f6;color:#333"><i class="l">0.86</i></div>
<div style="left:508px;top:499px;width:61px;height:27px;text-align:center;line-height:29px;background:#fdf9f6;color:#333"><i class="c s">半球</i></div>
<div style="left:570px;top:499px;width:38px;height:27px;text-align:center;line-height:29px;background:#fdf9f6;color:#333"><i class="l">1.02</i></div>
<div style="left:609px;top:499px;width:56px;height:27px;text-align:center;line-height:29px;background:#f1f7fb;color:#333"><i class="l">1.83</i></div>
<div style="left:666px;top:499px;width:58px;height:27px;text-align:center;line-height:29px;background:#f1f7fb;color:#333"><i class="l">3.43</i></div>
<div style="left:725px;top:499px;width:58px;height:27px;text-align:center;line-height:29px;background:#f1f7fb;color:#333"><i class="l">4.40</i></div>
<div style="left:784px;top:499px;width:35px;height:27px;text-align:center;line-height:29px;background:#efefef;color:#ff0000"><span class="gr"><i class="c s">勝</i></span></div>
<div style="left:820px;top:499px;width:35px;height:27px;text-align:center;line-height:29px;background:#efefef;color:#ff0000"><span class="gr"><i class="c s">贏</i></span></div>
<div style="left:856px;top:499px;width:52px;height:27px;text-align:center;line-height:29px;background:#efefef;color:#ff0000"><span class="gr"><i class="c s">大</i></span></div>
<div style="left:0px;top:526px;width:909px;height:1px;background:#bdbdbd"></div>
<div style="left:0px;top:527px;width:66px;height:27px;text-align:center;line-height:29px;background:#cc3300;color:#fff"><i class="c s">英冠</i></div>
<div style="left:67px;top:527px;width:69px;height:27px;text-align:center;line-height:29px;background:#fff;color:#333"><i class="l">26-01-21</i></div>
<div style="left:137px;top:527px;width:98px;height:27px;text-align:center;line-height:29px;background:#fff;"><span class="gr" style="color:#007a00"><i class="c s">牛津联</i></span></div>
<div style="left:236px;top:527px;width:80px;height:27px;text-align:center;line-height:29px;background:#fff;color:#333"><span style="color:#ff0000"><i class="l">0-0</i></span><i class="l">(0-0)</i></div>
<div style="left:317px;top:527px;width:36px;height:27px;text-align:center;line-height:29px;background:#fff;color:#333"><i class="l">2-6</i></div>
<div style="left:354px;top:527px;width:115px;height:27px;text-align:center;line-height:29px;background:#fff;"><span class="" style="color:#000"><i class="c s">女王公园巡游者</i></span></div>
<div style="left:470px;top:527px;width:37px;height:27px;text-align:center;line-height:29px;background:#fdf9f6;color:#333"><i class="l">0.98</i></div>
<div style="left:508px;top:527px;width:61px;height:27px;text-align:center;line-height:29px;background:#fdf9f6;color:#333"><i class="c s">平</i><i class="l sl">/</i><i class="c s">半</i></div>
<div style="left:570px;top:527px;width:38px;height:27px;text-align:center;line-height:29px;background:#fdf9f6;color:#333"><i class="l">0.90</i></div>
<div style="left:609px;top:527px;width:56px;height:27px;text-align:center;line-height:29px;background:#f1f7fb;color:#333"><i class="l">2.42</i></div>
<div style="left:666px;top:527px;width:58px;height:27px;text-align:center;line-height:29px;background:#f1f7fb;color:#333"><i class="l">3.18</i></div>
<div style="left:725px;top:527px;width:58px;height:27px;text-align:center;line-height:29px;background:#f1f7fb;color:#333"><i class="l">2.99</i></div>
<div style="left:784px;top:527px;width:35px;height:27px;text-align:center;line-height:29px;background:#fff;color:#0000ff"><span class="gr"><i class="c s">平</i></span></div>
<div style="left:820px;top:527px;width:35px;height:27px;text-align:center;line-height:29px;background:#fff;color:#007a00"><span class="gr"><i class="c s">輸</i></span></div>
<div style="left:856px;top:527px;width:52px;height:27px;text-align:center;line-height:29px;background:#fff;color:#007a00"><span class="gr"><i class="c s">小</i></span></div>
<div style="left:0px;top:554px;width:909px;height:1px;background:#bdbdbd"></div>
<div style="left:0px;top:555px;width:66px;height:27px;text-align:center;line-height:29px;background:#cc3300;color:#fff"><i class="c s">英冠</i></div>
<div style="left:67px;top:555px;width:69px;height:27px;text-align:center;line-height:29px;background:#efefef;color:#333"><i class="l">26-01-17</i></div>
<div style="left:137px;top:555px;width:98px;height:27px;text-align:center;line-height:29px;background:#efefef;"><span class="gr" style="color:#007a00"><i class="c s">牛津联</i></span></div>
<div style="left:236px;top:555px;width:80px;height:27px;text-align:center;line-height:29px;background:#efefef;color:#333"><span style="color:#ff0000"><i class="l">0-0</i></span><i class="l">(0-0)</i></div>
<div style="left:317px;top:555px;width:36px;height:27px;text-align:center;line-height:29px;background:#efefef;color:#333"><i class="l">7-5</i></div>
<div style="left:354px;top:555px;width:115px;height:27px;text-align:center;line-height:29px;background:#efefef;"><span class="" style="color:#000"><i class="c s">布里斯托城</i></span></div>
<div style="left:470px;top:555px;width:37px;height:27px;text-align:center;line-height:29px;background:#fdf9f6;color:#333"><i class="l">0.92</i></div>
<div style="left:508px;top:555px;width:61px;height:27px;text-align:center;line-height:29px;background:#fdf9f6;color:#333"><span class="ast">*</span><i class="c s">平</i><i class="l sl">/</i><i class="c s">半</i></div>
<div style="left:570px;top:555px;width:38px;height:27px;text-align:center;line-height:29px;background:#fdf9f6;color:#333"><i class="l">0.96</i></div>
<div style="left:609px;top:555px;width:56px;height:27px;text-align:center;line-height:29px;background:#f1f7fb;color:#333"><i class="l">3.20</i></div>
<div style="left:666px;top:555px;width:58px;height:27px;text-align:center;line-height:29px;background:#f1f7fb;color:#333"><i class="l">3.35</i></div>
<div style="left:725px;top:555px;width:58px;height:27px;text-align:center;line-height:29px;background:#f1f7fb;color:#333"><i class="l">2.20</i></div>
<div style="left:784px;top:555px;width:35px;height:27px;text-align:center;line-height:29px;background:#efefef;color:#0000ff"><span class="gr"><i class="c s">平</i></span></div>
<div style="left:820px;top:555px;width:35px;height:27px;text-align:center;line-height:29px;background:#efefef;color:#ff0000"><span class="gr"><i class="c s">贏</i></span></div>
<div style="left:856px;top:555px;width:52px;height:27px;text-align:center;line-height:29px;background:#efefef;color:#007a00"><span class="gr"><i class="c s">小</i></span></div>
<div style="left:0px;top:582px;width:909px;height:1px;background:#bdbdbd"></div>
<div style="left:0px;top:583px;width:66px;height:27px;text-align:center;line-height:29px;background:#0000cc;color:#fff"><i class="c s">英足总杯</i></div>
<div style="left:67px;top:583px;width:69px;height:27px;text-align:center;line-height:29px;background:#fff;color:#333"><i class="l">26-01-10</i></div>
<div style="left:137px;top:583px;width:98px;height:27px;text-align:center;line-height:29px;background:#fff;"><span class="" style="color:#000"><i class="c s">米尔顿凯恩斯</i></span></div>
<div style="left:236px;top:583px;width:80px;height:27px;text-align:center;line-height:29px;background:#fff;color:#333"><span style="color:#ff0000"><i class="l">1-1</i></span><i class="l">(1-0)</i></div>
<div style="left:317px;top:583px;width:36px;height:27px;text-align:center;line-height:29px;background:#fff;color:#333"><i class="l">10-4</i></div>
<div style="left:354px;top:583px;width:115px;height:27px;text-align:center;line-height:29px;background:#fff;"><span class="gr" style="color:#007a00"><i class="c s">牛津联</i></span></div>
<div style="left:470px;top:583px;width:37px;height:27px;text-align:center;line-height:29px;background:#fdf9f6;color:#333"><i class="l">0.83</i></div>
<div style="left:508px;top:583px;width:61px;height:27px;text-align:center;line-height:29px;background:#fdf9f6;color:#333"><span class="ast">*</span><i class="c s">平</i><i class="l sl">/</i><i class="c s">半</i></div>
<div style="left:570px;top:583px;width:38px;height:27px;text-align:center;line-height:29px;background:#fdf9f6;color:#333"><i class="l">1.05</i></div>
<div style="left:609px;top:583px;width:56px;height:27px;text-align:center;line-height:29px;background:#f1f7fb;color:#333"><i class="l">2.84</i></div>
<div style="left:666px;top:583px;width:58px;height:27px;text-align:center;line-height:29px;background:#f1f7fb;color:#333"><i class="l">3.38</i></div>
<div style="left:725px;top:583px;width:58px;height:27px;text-align:center;line-height:29px;background:#f1f7fb;color:#333"><i class="l">2.36</i></div>
<div style="left:784px;top:583px;width:35px;height:27px;text-align:center;line-height:29px;background:#fff;color:#0000ff"><span class="gr"><i class="c s">平</i></span></div>
<div style="left:820px;top:583px;width:35px;height:27px;text-align:center;line-height:29px;background:#fff;color:#007a00"><span class="gr"><i class="c s">輸</i></span></div>
<div style="left:856px;top:583px;width:52px;height:27px;text-align:center;line-height:29px;background:#fff;color:#007a00"><span class="gr"><i class="c s">小</i></span></div>
<div style="left:0px;top:610px;width:909px;height:1px;background:#bdbdbd"></div>
<div style="left:0px;top:611px;width:66px;height:27px;text-align:center;line-height:29px;background:#cc3300;color:#fff"><i class="c s">英冠</i></div>
<div style="left:67px;top:611px;width:69px;height:27px;text-align:center;line-height:29px;background:#efefef;color:#333"><i class="l">26-01-01</i></div>
<div style="left:137px;top:611px;width:98px;height:27px;text-align:center;line-height:29px;background:#efefef;"><span class="" style="color:#000"><i class="c s">伊普斯维奇</i></span></div>
<div style="left:236px;top:611px;width:80px;height:27px;text-align:center;line-height:29px;background:#efefef;color:#333"><span style="color:#ff0000"><i class="l">2-1</i></span><i class="l">(2-1)</i></div>
<div style="left:317px;top:611px;width:36px;height:27px;text-align:center;line-height:29px;background:#efefef;color:#333"><i class="l">9-2</i></div>
<div style="left:354px;top:611px;width:115px;height:27px;text-align:center;line-height:29px;background:#efefef;"><span class="gr" style="color:#007a00"><i class="c s">牛津联</i></span></div>
<div style="left:470px;top:611px;width:37px;height:27px;text-align:center;line-height:29px;background:#fdf9f6;color:#333"><i class="l">0.80</i></div>
<div style="left:508px;top:611px;width:61px;height:27px;text-align:center;line-height:29px;background:#fdf9f6;color:#333"><i class="c s">一</i><i class="l sl">/</i><i class="c s">球半</i></div>
<div style="left:570px;top:611px;width:38px;height:27px;text-align:center;line-height:29px;background:#fdf9f6;color:#333"><i class="l">1.08</i></div>
<div style="left:609px;top:611px;width:56px;height:27px;text-align:center;line-height:29px;background:#f1f7fb;color:#333"><i class="l">1.35</i></div>
<div style="left:666px;top:611px;width:58px;height:27px;text-align:center;line-height:29px;background:#f1f7fb;color:#333"><i class="l">4.79</i></div>
<div style="left:725px;top:611px;width:58px;height:27px;text-align:center;line-height:29px;background:#f1f7fb;color:#333"><i class="l">8.63</i></div>
<div style="left:784px;top:611px;width:35px;height:27px;text-align:center;line-height:29px;background:#efefef;color:#007a00"><span class="gr"><i class="c s">負</i></span></div>
<div style="left:820px;top:611px;width:35px;height:27px;text-align:center;line-height:29px;background:#efefef;color:#ff0000"><span class="gr"><i class="c s">贏</i></span></div>
<div style="left:856px;top:611px;width:52px;height:27px;text-align:center;line-height:29px;background:#efefef;color:#ff0000"><span class="gr"><i class="c s">大</i></span></div>
<div style="left:0px;top:638px;width:909px;height:1px;background:#bdbdbd"></div>
<div style="left:0px;top:639px;width:66px;height:27px;text-align:center;line-height:29px;background:#cc3300;color:#fff"><i class="c s">英冠</i></div>
<div style="left:67px;top:639px;width:69px;height:27px;text-align:center;line-height:29px;background:#fff;color:#333"><i class="l">25-12-30</i></div>
<div style="left:137px;top:639px;width:98px;height:27px;text-align:center;line-height:29px;background:#fff;"><span class="gr" style="color:#007a00"><i class="c s">牛津联</i></span></div>
<div style="left:236px;top:639px;width:80px;height:27px;text-align:center;line-height:29px;background:#fff;color:#333"><span style="color:#ff0000"><i class="l">0-1</i></span><i class="l">(0-1)</i></div>
<div style="left:317px;top:639px;width:36px;height:27px;text-align:center;line-height:29px;background:#fff;color:#333"><i class="l">1-5</i></div>
<div style="left:354px;top:639px;width:115px;height:27px;text-align:center;line-height:29px;background:#fff;"><span class="" style="color:#000"><i class="c s">斯旺西</i></span></div>
<div style="left:470px;top:639px;width:37px;height:27px;text-align:center;line-height:29px;background:#fdf9f6;color:#333"><i class="l">0.89</i></div>
<div style="left:508px;top:639px;width:61px;height:27px;text-align:center;line-height:29px;background:#fdf9f6;color:#333"><i class="c s">平手</i></div>
<div style="left:570px;top:639px;width:38px;height:27px;text-align:center;line-height:29px;background:#fdf9f6;color:#333"><i class="l">0.99</i></div>
<div style="left:609px;top:639px;width:56px;height:27px;text-align:center;line-height:29px;background:#f1f7fb;color:#333"><i class="l">2.65</i></div>
<div style="left:666px;top:639px;width:58px;height:27px;text-align:center;line-height:29px;background:#f1f7fb;color:#333"><i class="l">3.17</i></div>
<div style="left:725px;top:639px;width:58px;height:27px;text-align:center;line-height:29px;background:#f1f7fb;color:#333"><i class="l">2.68</i></div>
<div style="left:784px;top:639px;width:35px;height:27px;text-align:center;line-height:29px;background:#fff;color:#007a00"><span class="gr"><i class="c s">負</i></span></div>
<div style="left:820px;top:639px;width:35px;height:27px;text-align:center;line-height:29px;background:#fff;color:#007a00"><span class="gr"><i class="c s">輸</i></span></div>
<div style="left:856px;top:639px;width:52px;height:27px;text-align:center;line-height:29px;background:#fff;color:#007a00"><span class="gr"><i class="c s">小</i></span></div>
<div style="left:0px;top:666px;width:909px;height:1px;background:#bdbdbd"></div>
<div style="left:0px;top:667px;width:66px;height:27px;text-align:center;line-height:29px;background:#cc3300;color:#fff"><i class="c s">英冠</i></div>
<div style="left:67px;top:667px;width:69px;height:27px;text-align:center;line-height:29px;background:#efefef;color:#333"><i class="l">25-12-26</i></div>
<div style="left:137px;top:667px;width:98px;height:27px;text-align:center;line-height:29px;background:#efefef;"><span class="gr" style="color:#007a00"><i class="c s">牛津联</i></span></div>
<div style="left:236px;top:667px;width:80px;height:27px;text-align:center;line-height:29px;background:#efefef;color:#333"><span style="color:#ff0000"><i class="l">2-1</i></span><i class="l">(1-1)</i></div>
<div style="left:317px;top:667px;width:36px;height:27px;text-align:center;line-height:29px;background:#efefef;color:#333"><i class="l">5-7</i></div>
<div style="left:354px;top:667px;width:115px;height:27px;text-align:center;line-height:29px;background:#efefef;"><span class="" style="color:#000"><i class="c s">南安普敦</i></span></div>
<div style="left:470px;top:667px;width:37px;height:27px;text-align:center;line-height:29px;background:#fdf9f6;color:#333"><i class="l">1.02</i></div>
<div style="left:508px;top:667px;width:61px;height:27px;text-align:center;line-height:29px;background:#fdf9f6;color:#333"><span class="ast">*</span><i class="c s">半球</i></div>
<div style="left:570px;top:667px;width:38px;height:27px;text-align:center;line-height:29px;background:#fdf9f6;color:#333"><i class="l">0.86</i></div>
<div style="left:609px;top:667px;width:56px;height:27px;text-align:center;line-height:29px;background:#f1f7fb;color:#333"><i class="l">3.84</i></div>
<div style="left:666px;top:667px;width:58px;height:27px;text-align:center;line-height:29px;background:#f1f7fb;color:#333"><i class="l">3.78</i></div>
<div style="left:725px;top:667px;width:58px;height:27px;text-align:center;line-height:29px;background:#f1f7fb;color:#333"><i class="l">1.85</i></div>
<div style="left:784px;top:667px;width:35px;height:27px;text-align:center;line-height:29px;background:#efefef;color:#ff0000"><span class="gr"><i class="c s">勝</i></span></div>
<div style="left:820px;top:667px;width:35px;height:27px;text-align:center;line-height:29px;background:#efefef;color:#ff0000"><span class="gr"><i class="c s">贏</i></span></div>
<div style="left:856px;top:667px;width:52px;height:27px;text-align:center;line-height:29px;background:#efefef;color:#ff0000"><span class="gr"><i class="c s">大</i></span></div>
<div style="left:0px;top:694px;width:909px;height:1px;background:#bdbdbd"></div>
<div style="left:0px;top:695px;width:66px;height:27px;text-align:center;line-height:29px;background:#cc3300;color:#fff"><i class="c s">英冠</i></div>
<div style="left:67px;top:695px;width:69px;height:27px;text-align:center;line-height:29px;background:#fff;color:#333"><i class="l">25-12-20</i></div>
<div style="left:137px;top:695px;width:98px;height:27px;text-align:center;line-height:29px;background:#fff;"><span class="" style="color:#000"><i class="c s">查尔顿</i></span></div>
<div style="left:236px;top:695px;width:80px;height:27px;text-align:center;line-height:29px;background:#fff;color:#333"><span style="color:#ff0000"><i class="l">1-0</i></span><i class="l">(0-0)</i></div>
<div style="left:317px;top:695px;width:36px;height:27px;text-align:center;line-height:29px;background:#fff;color:#333"><i class="l">5-6</i></div>
<div style="left:354px;top:695px;width:115px;height:27px;text-align:center;line-height:29px;background:#fff;"><span class="gr" style="color:#007a00"><i class="c s">牛津联</i></span></div>
<div style="left:470px;top:695px;width:37px;height:27px;text-align:center;line-height:29px;background:#fdf9f6;color:#333"><i class="l">1.08</i></div>
<div style="left:508px;top:695px;width:61px;height:27px;text-align:center;line-height:29px;background:#fdf9f6;color:#333"><i class="c s">半球</i></div>
<div style="left:570px;top:695px;width:38px;height:27px;text-align:center;line-height:29px;background:#fdf9f6;color:#333"><i class="l">0.80</i></div>
<div style="left:609px;top:695px;width:56px;height:27px;text-align:center;line-height:29px;background:#f1f7fb;color:#333"><i class="l">2.06</i></div>
<div style="left:666px;top:695px;width:58px;height:27px;text-align:center;line-height:29px;background:#f1f7fb;color:#333"><i class="l">3.28</i></div>
<div style="left:725px;top:695px;width:58px;height:27px;text-align:center;line-height:29px;background:#f1f7fb;color:#333"><i class="l">3.66</i></div>
<div style="left:784px;top:695px;width:35px;height:27px;text-align:center;line-height:29px;background:#fff;color:#007a00"><span class="gr"><i class="c s">負</i></span></div>
<div style="left:820px;top:695px;width:35px;height:27px;text-align:center;line-height:29px;background:#fff;color:#007a00"><span class="gr"><i class="c s">輸</i></span></div>
<div style="left:856px;top:695px;width:52px;height:27px;text-align:center;line-height:29px;background:#fff;color:#007a00"><span class="gr"><i class="c s">小</i></span></div>
<div style="left:0px;top:722px;width:909px;height:1px;background:#bdbdbd"></div>
<div style="left:0px;top:723px;width:66px;height:27px;text-align:center;line-height:29px;background:#cc3300;color:#fff"><i class="c s">英冠</i></div>
<div style="left:67px;top:723px;width:69px;height:27px;text-align:center;line-height:29px;background:#efefef;color:#333"><i class="l">25-12-13</i></div>
<div style="left:137px;top:723px;width:98px;height:27px;text-align:center;line-height:29px;background:#efefef;"><span class="gr" style="color:#007a00"><i class="c s">牛津联</i></span></div>
<div style="left:236px;top:723px;width:80px;height:27px;text-align:center;line-height:29px;background:#efefef;color:#333"><span style="color:#ff0000"><i class="l">1-2</i></span><i class="l">(0-1)</i></div>
<div style="left:317px;top:723px;width:36px;height:27px;text-align:center;line-height:29px;background:#efefef;color:#333"><i class="l">9-9</i></div>
<div style="left:354px;top:723px;width:115px;height:27px;text-align:center;line-height:29px;background:#efefef;"><span class="" style="color:#000"><i class="c s">普雷斯顿</i></span></div>
<div style="left:470px;top:723px;width:37px;height:27px;text-align:center;line-height:29px;background:#fdf9f6;color:#333"><i class="l">0.92</i></div>
<div style="left:508px;top:723px;width:61px;height:27px;text-align:center;line-height:29px;background:#fdf9f6;color:#333"><i class="c s">平手</i></div>
<div style="left:570px;top:723px;width:38px;height:27px;text-align:center;line-height:29px;background:#fdf9f6;color:#333"><i class="l">0.96</i></div>
<div style="left:609px;top:723px;width:56px;height:27px;text-align:center;line-height:29px;background:#f1f7fb;color:#333"><i class="l">2.61</i></div>
<div style="left:666px;top:723px;width:58px;height:27px;text-align:center;line-height:29px;background:#f1f7fb;color:#333"><i class="l">3.26</i></div>
<div style="left:725px;top:723px;width:58px;height:27px;text-align:center;line-height:29px;background:#f1f7fb;color:#333"><i class="l">2.67</i></div>
<div style="left:784px;top:723px;width:35px;height:27px;text-align:center;line-height:29px;background:#efefef;color:#007a00"><span class="gr"><i class="c s">負</i></span></div>
<div style="left:820px;top:723px;width:35px;height:27px;text-align:center;line-height:29px;background:#efefef;color:#007a00"><span class="gr"><i class="c s">輸</i></span></div>
<div style="left:856px;top:723px;width:52px;height:27px;text-align:center;line-height:29px;background:#efefef;color:#ff0000"><span class="gr"><i class="c s">大</i></span></div>
<div style="left:0px;top:750px;width:909px;height:1px;background:#bdbdbd"></div>
<div style="left:66px;top:470px;width:1px;height:280px;background:#bdbdbd"></div>
<div style="left:136px;top:470px;width:1px;height:280px;background:#bdbdbd"></div>
<div style="left:235px;top:470px;width:1px;height:280px;background:#bdbdbd"></div>
<div style="left:316px;top:470px;width:1px;height:280px;background:#bdbdbd"></div>
<div style="left:353px;top:470px;width:1px;height:280px;background:#bdbdbd"></div>
<div style="left:469px;top:470px;width:1px;height:280px;background:#bdbdbd"></div>
<div style="left:507px;top:470px;width:1px;height:280px;background:#bdbdbd"></div>
<div style="left:569px;top:470px;width:1px;height:280px;background:#bdbdbd"></div>
<div style="left:608px;top:470px;width:1px;height:280px;background:#bdbdbd"></div>
<div style="left:665px;top:470px;width:1px;height:280px;background:#bdbdbd"></div>
<div style="left:724px;top:470px;width:1px;height:280px;background:#bdbdbd"></div>
<div style="left:783px;top:470px;width:1px;height:280px;background:#bdbdbd"></div>
<div style="left:819px;top:470px;width:1px;height:280px;background:#bdbdbd"></div>
<div style="left:855px;top:470px;width:1px;height:280px;background:#bdbdbd"></div>
<div style="left:908px;top:470px;width:1px;height:280px;background:#bdbdbd"></div>
<div style="left:0px;top:403px;width:909px;height:1px;background:#bdbdbd"></div>
<div style="left:908px;top:375px;width:1px;height:28px;background:#bdbdbd"></div>
<div class="ct" style="left:290px;top:410px"><i class="c">近</i></div>
<div class="sel" style="left:306px;top:411px;width:36px;height:16px"><span class="st"><i class="l">10</i></span><svg width="7" height="6" style="position:absolute;left:22px;top:4px"><path d="M0 0H7L3.5 6Z" fill="#000"/></svg></div>
<div class="ct" style="left:346px;top:410px"><i class="c">场</i></div>
<div class="cb" style="left:362px;top:414px"></div>
<div class="ct" style="left:379px;top:410px"><i class="c">同客</i></div>
<div class="cb" style="left:407px;top:414px"><svg width="12" height="12"><path d="M2.6 6.2L5 8.8L9.6 2.6" stroke="#3a3a3a" stroke-width="2.6" fill="none"/></svg></div>
<div class="ct" style="left:419px;top:410px"><i class="c">英冠</i></div>
<div class="cb" style="left:444px;top:414px"><svg width="12" height="12"><path d="M2.6 6.2L5 8.8L9.6 2.6" stroke="#3a3a3a" stroke-width="2.6" fill="none"/></svg></div>
<div class="ct" style="left:456px;top:410px"><i class="c">英足总杯</i></div>
<div class="cb" style="left:506px;top:414px"><svg width="12" height="12"><path d="M2.6 6.2L5 8.8L9.6 2.6" stroke="#3a3a3a" stroke-width="2.6" fill="none"/></svg></div>
<div class="ct" style="left:517px;top:410px"><i class="c">英联杯</i></div>
<div class="cb" style="left:555px;top:414px"><svg width="12" height="12"><path d="M2.6 6.2L5 8.8L9.6 2.6" stroke="#3a3a3a" stroke-width="2.6" fill="none"/></svg></div>
<div class="ct" style="left:566px;top:410px"><i class="c">球会友谊</i></div>
<div class="cb" style="left:616px;top:414px"><svg width="12" height="12"><path d="M2.6 6.2L5 8.8L9.6 2.6" stroke="#3a3a3a" stroke-width="2.6" fill="none"/></svg></div>
<div class="ct" style="left:627px;top:410px"><i class="c">印尼总杯</i></div>
<div class="hs" style="left:487px;top:431px;width:59px;height:20px"><span class="hst" style="left:4px"><i class="l">Crow*</i></span><svg width="7" height="6" style="position:absolute;left:45px;top:6px"><path d="M0 0H7L3.5 6Z" fill="#000"/></svg></div>
<div class="hs" style="left:554px;top:431px;width:36px;height:20px"><span class="hst" style="left:4px"><i class="c">终</i></span><svg width="7" height="6" style="position:absolute;left:22px;top:6px"><path d="M0 0H7L3.5 6Z" fill="#000"/></svg></div>
<div class="hs" style="left:632px;top:431px;width:84px;height:20px"><span class="hst" style="left:4px"><i class="c">胜平负均值</i></span><svg width="7" height="6" style="position:absolute;left:71px;top:6px"><path d="M0 0H7L3.5 6Z" fill="#000"/></svg></div>
<div class="hs" style="left:724px;top:431px;width:36px;height:20px"><span class="hst" style="left:4px"><i class="c">终</i></span><svg width="7" height="6" style="position:absolute;left:22px;top:6px"><path d="M0 0H7L3.5 6Z" fill="#000"/></svg></div>
<div class="hs" style="left:823px;top:431px;width:48px;height:20px"><span class="hst" style="left:4px"><i class="c">全场</i></span><svg width="7" height="6" style="position:absolute;left:34px;top:6px"><path d="M0 0H7L3.5 6Z" fill="#000"/></svg></div>
</body></html>
